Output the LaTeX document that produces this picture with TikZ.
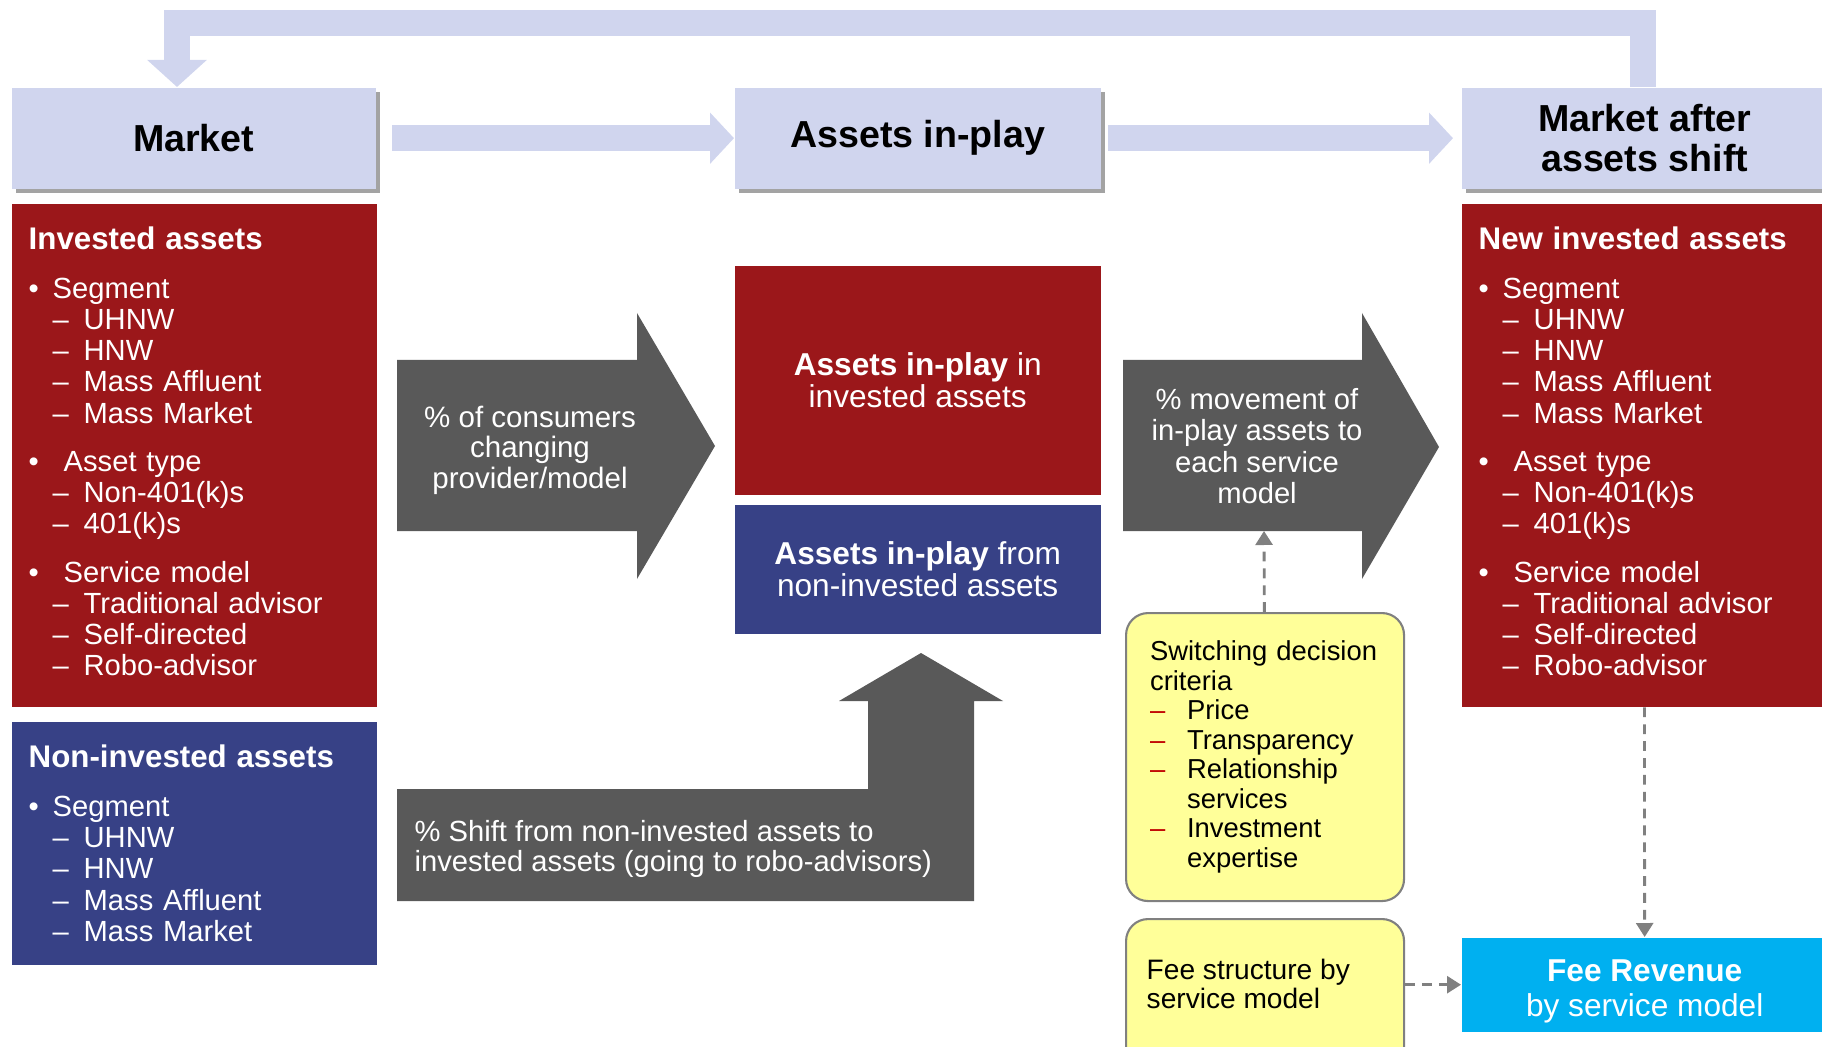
\documentclass[tikz,border=0pt]{standalone}
\usepackage{fontspec}
\setmainfont{Liberation Sans}
\usetikzlibrary{arrows.meta,shadows}

\definecolor{lavender}{RGB}{208,213,238}
\definecolor{assetred}{RGB}{155,23,26}
\definecolor{assetblue}{RGB}{55,65,134}
\definecolor{arrowgray}{RGB}{89,89,89}
\definecolor{notebg}{RGB}{255,255,153}
\definecolor{noteline}{RGB}{128,128,128}
\definecolor{feecyan}{RGB}{0,176,240}
\definecolor{dashred}{RGB}{192,0,0}

\newcommand{\hdfont}{\fontsize{10.7}{11.5}\selectfont\bfseries}
\newcommand{\lstfont}{\fontsize{8.3}{8.9}\selectfont}
\newcommand{\lsthead}[1]{{\fontsize{8.9}{8.9}\selectfont\bfseries #1}}
\newcommand{\itm}[1]{\makebox[2.4mm][l]{•}#1}
\newcommand{\itmw}[1]{\makebox[3.5mm][l]{•}#1}
\newcommand{\subitm}[1]{\hspace*{2.4mm}\makebox[3.1mm][l]{–}#1}
\newcommand{\crit}[1]{\makebox[3.7mm][l]{\textcolor{dashred}{–}}#1}

\begin{document}
\begin{tikzpicture}[x=0.1mm,y=0.1mm,
  hdbox/.style={fill=lavender,anchor=north west,minimum height=10.1mm,align=center,font=\hdfont,
    drop shadow={shadow xshift=0.45mm,shadow yshift=-0.45mm,fill=black!45,opacity=0.8}},
  listbox/.style={anchor=north west,text=white,align=left,inner xsep=1.7mm,text width=33.1mm,font=\lstfont},
  playbox/.style={anchor=north west,text=white,align=center,minimum width=36.6mm,font=\fontsize{9}{9.3}\selectfont},
  notebox/.style={anchor=north west,fill=notebg,draw=noteline,line width=0.6pt,rounded corners=2.2mm,minimum width=27.8mm},
  flowarrow/.style={draw=lavender,line width=2.6mm,-{Triangle[width=5mm,length=2.4mm]}},
  dasharrow/.style={draw=noteline,line width=0.8pt,dash pattern=on 2.8pt off 2pt,-{Triangle[width=1.7mm,length=1.4mm]}},
  graytxt/.style={text=white,align=center,font=\fontsize{8.3}{8.9}\selectfont}]
\tikzstyle{every node}+=[inner sep=0pt]
\useasboundingbox (0,0) rectangle (1822,-1047);

% loop back from the shifted market
\coordinate (loopR) at (1643,-23);
\coordinate (loopL) at (177,-23);
\node[hdbox,minimum width=36.4mm] (market) at (11,-87) {Market};
\node[hdbox,minimum width=36.6mm] (inplay) at (734,-87) {Assets in-play};
\draw[flowarrow,-{Triangle[width=5.8mm,length=2.7mm]},line join=miter] (1643,-87) -- (loopR) -- (loopL) -- (market.north -| loopL);
\node[hdbox,minimum width=36.6mm,font=\fontsize{10.7}{11.2}\selectfont\bfseries] (after) at (1461,-87) {Market after\\assets shift};
\draw[flowarrow,shorten <=1.6mm] (market) -- (inplay);
\draw[flowarrow,shorten <=0.7mm,shorten >=0.8mm] (inplay) -- (after);

% market columns
\node[listbox,fill=assetred,minimum height=50.3mm] (invested) at (11,-203) {\lsthead{Invested assets}\\[5pt]
\itm{Segment}\\
\subitm{UHNW}\\
\subitm{HNW}\\
\subitm{Mass Affluent}\\
\subitm{Mass Market}\\[4.8pt]
\itmw{Asset type}\\
\subitm{Non-401(k)s}\\
\subitm{401(k)s}\\[4.8pt]
\itmw{Service model}\\
\subitm{Traditional advisor}\\
\subitm{Self-directed}\\
\subitm{Robo-advisor}\rule[-0.8mm]{0pt}{0.8mm}};
\node[listbox,fill=assetblue,minimum height=24.3mm] (noninv) at (11,-721) {\lsthead{Non-invested assets}\\[5pt]
\itm{Segment}\\
\subitm{UHNW}\\
\subitm{HNW}\\
\subitm{Mass Affluent}\\
\subitm{Mass Market}};
\node[listbox,fill=assetred,minimum height=50.3mm] (newinv) at (1461,-203) {\lsthead{New invested assets}\\[5pt]
\itm{Segment}\\
\subitm{UHNW}\\
\subitm{HNW}\\
\subitm{Mass Affluent}\\
\subitm{Mass Market}\\[4.8pt]
\itmw{Asset type}\\
\subitm{Non-401(k)s}\\
\subitm{401(k)s}\\[4.8pt]
\itmw{Service model}\\
\subitm{Traditional advisor}\\
\subitm{Self-directed}\\
\subitm{Robo-advisor}\rule[-0.8mm]{0pt}{0.8mm}};

% assets in play
\node[playbox,fill=assetred,minimum height=22.9mm] (playinv) at (734,-265) {\textbf{Assets in-play} in\\invested assets};
\node[playbox,fill=assetblue,minimum height=12.9mm] (playnon) at (734,-504) {\textbf{Assets in-play} from\\non-invested assets};

% block arrows
\fill[arrowgray] (397,-360) -- (637,-360) -- (637,-313) -- (715,-446) -- (637,-579) -- (637,-531) -- (397,-531) -- cycle;
\node[graytxt,font=\fontsize{8.4}{8.7}\selectfont] (consumers) at (530,-450) {\% of consumers\\changing\\provider/model};
\fill[arrowgray] (1123,-360) -- (1362,-360) -- (1362,-313) -- (1439,-447) -- (1362,-579) -- (1362,-531) -- (1123,-531) -- cycle;
\node[graytxt] (movement) at (1257,-446) {\% movement of\\in-play assets to\\each service\\model};
\fill[arrowgray] (397,-789) -- (868,-789) -- (868,-701) -- (839,-701) -- (921,-653) -- (1003,-701) -- (974,-701) -- (974,-901) -- (397,-901) -- cycle;
\node[graytxt,align=left,anchor=west,font=\fontsize{8.3}{8.5}\selectfont] (shift) at (414,-849) {\% Shift from non-invested assets to\\invested assets (going to robo-advisors)};

% fee side
\node[notebox,minimum height=28.8mm,text width=23mm,inner xsep=2.4mm,align=left,font=\fontsize{7.8}{8.4}\selectfont] (switching) at (1125,-612) {Switching decision criteria\\
\crit{Price}\\
\crit{Transparency}\\
\crit{Relationship}\\
\hspace*{3.7mm}services\\
\crit{Investment}\\
\hspace*{3.7mm}expertise};
\node[notebox,minimum height=16mm] (feestruct) at (1125,-918) {};
\node[anchor=west,align=left,font=\fontsize{8}{8.5}\selectfont] (feetxt) at (1146,-984) {Fee structure by\\service model};
\node[anchor=north west,fill=feecyan,text=white,minimum width=36.6mm,minimum height=9.4mm,align=center,font=\fontsize{9}{10}\selectfont] (feerev) at (1461,-937) {\rule{0pt}{3.5mm}\textbf{Fee Revenue}\\by service model};

\coordinate (mvbot) at (1264,-531);
\draw[dasharrow] (switching) -- (mvbot);
\draw[dasharrow] (newinv) -- (feerev);
\draw[dasharrow] (feestruct.east |- feerev) -- (feerev.west);
\end{tikzpicture}
\end{document}
